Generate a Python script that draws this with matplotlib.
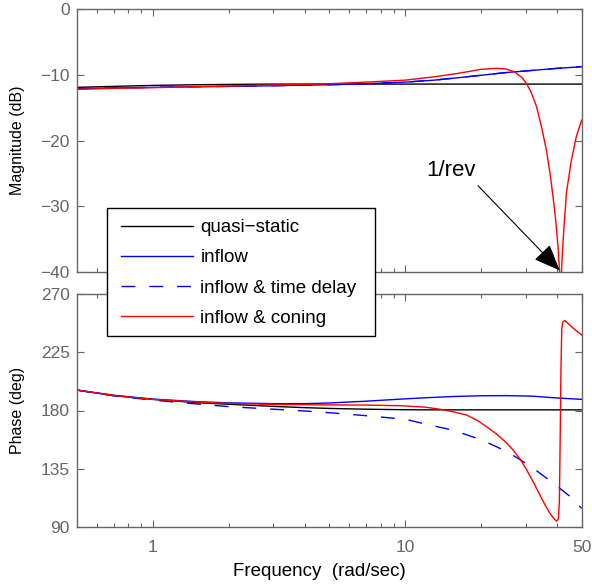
import numpy as np
import matplotlib
matplotlib.use("Agg")
import matplotlib.pyplot as plt
from matplotlib.patches import Rectangle
from matplotlib.ticker import FixedLocator, NullFormatter, FixedFormatter

plt.rcParams['font.family'] = ['Liberation Sans', 'DejaVu Sans']

# magnitude (dB)
freq_mag = [0.5, 0.7, 1, 1.5, 2, 3, 5, 7, 10, 13, 17, 20, 25, 30, 40, 50]
mag_quasi = [-11.9, -11.75, -11.6, -11.5, -11.45, -11.4, -11.4, -11.4, -11.4,
             -11.4, -11.4, -11.4, -11.4, -11.4, -11.4, -11.4]
mag_inflow = [-12.1, -12.0, -11.9, -11.8, -11.75, -11.65, -11.5, -11.35, -11.1,
              -10.8, -10.35, -10.05, -9.65, -9.4, -9.0, -8.75]

freq_mag_coning = [0.5, 0.7, 1, 1.5, 2, 3, 5, 7, 10, 13, 16, 20, 23, 25, 27, 29,
                   30.2, 31.5, 33.1, 34.6, 36.2, 37.4, 38.5, 39.4, 40.3, 41.0,
                   41.3, 41.6, 42.2, 43.5, 45.5, 47.6, 50]
mag_coning = [-12.2, -12.05, -11.95, -11.8, -11.7, -11.55, -11.35, -11.1, -10.8,
              -10.3, -9.8, -9.15, -9.0, -9.1, -9.5, -10.4, -11.3, -12.6, -14.8,
              -17.8, -21.4, -24.8, -28.6, -32.0, -36.2, -41.0, -60.0, -39.7,
              -35.2, -28.0, -23.0, -19.4, -16.9]

# phase (deg)
freq_ph = [0.5, 0.7, 1, 1.5, 2, 3, 4, 5, 7, 10, 12.2, 15.5, 20, 25.4, 31.6,
           35, 39, 45, 50]
ph_quasi = [195.8, 191.5, 188.6, 186.0, 184.8, 183.2, 182.2, 181.6, 181.0,
            180.6, 180.5, 180.5, 180.5, 180.5, 180.5, 180.5, 180.5, 180.5, 180.5]
ph_inflow = [195.8, 191.8, 188.8, 186.8, 185.9, 185.3, 185.3, 185.8, 187.2,
             189.0, 189.9, 190.8, 191.4, 191.5, 191.1, 190.5, 189.8, 189.1, 188.6]
ph_delay = [195.8, 191.3, 188.0, 185.0, 183.0, 181.0, 179.6, 178.3, 176.0,
            173.2, 169.3, 164.7, 157.4, 148.1, 136.5, 130.0, 123.2, 113.5, 104.4]

freq_ph_coning = [0.5, 0.7, 1, 1.5, 2, 3, 5, 7, 9.55, 12, 13.8, 15.5, 17.5,
                  19.2, 21, 23, 25.2, 26.8, 28.5, 30.2, 32.1, 34.2, 35.8, 37.3,
                  38.5, 39.7, 40.4, 40.8, 41.1, 41.4, 41.7, 42.1, 42.8, 44, 46,
                  48, 50]
ph_coning = [195.8, 191.6, 188.6, 186.5, 185.5, 184.7, 184.3, 184.2, 183.7,
             182.6, 180.9, 179.0, 176.5, 172.6, 167.5, 161.8, 155.0, 149.3,
             142.5, 134.5, 125.0, 114.5, 107.0, 101.0, 97.3, 94.5, 96.0, 110.0,
             160.0, 215.0, 243.0, 248.5, 249.5, 247.5, 244.0, 241.0, 238.3]

labels = ['quasi\u2212static', 'inflow', 'inflow & time delay', 'inflow & coning']

GRAY = '#666666'
W, H = 592, 584
fig = plt.figure(figsize=(W / 100, H / 100), dpi=100)


def px_axes(left, top, right, bottom):
    return fig.add_axes([left / W, 1 - bottom / H, (right - left) / W, (bottom - top) / H])


ax1 = px_axes(76.7, 9.3, 581.7, 271.7)
ax2 = px_axes(76.7, 294, 581.7, 527)

lw = 1.0
dash = (10, 10)
ax1.plot(freq_mag, mag_quasi, color='k', lw=lw, label=labels[0])
ax1.plot(freq_mag, mag_inflow, color='b', lw=lw, label=labels[1])
ax1.plot(freq_mag, mag_inflow, color='b', lw=lw, dashes=dash, label=labels[2])
ax1.plot(freq_mag_coning, mag_coning, color='r', lw=lw, label=labels[3])

ax2.plot(freq_ph, ph_quasi, color='k', lw=lw)
ax2.plot(freq_ph, ph_inflow, color='b', lw=lw)
ax2.plot(freq_ph, ph_delay, color='b', lw=lw, dashes=dash)
ax2.plot(freq_ph_coning, ph_coning, color='r', lw=lw)

minor = [0.6, 0.7, 0.8, 0.9, 2, 3, 4, 5, 6, 7, 8, 9, 20, 30, 40]
for ax in (ax1, ax2):
    ax.set_xscale('log')
    ax.set_xlim(0.5, 50)
    ax.xaxis.set_major_locator(FixedLocator([1, 10, 50]))
    ax.xaxis.set_minor_locator(FixedLocator(minor))
    ax.xaxis.set_minor_formatter(NullFormatter())
    ax.tick_params(which='both', direction='in', top=True, right=True,
                   color=GRAY, labelcolor=GRAY, labelsize=12.5)
    ax.tick_params(which='major', length=5, width=0.8)
    ax.tick_params(which='minor', length=3, width=0.8)
    ax.tick_params(axis='y', pad=5)
    for s in ax.spines.values():
        s.set_color(GRAY)
        s.set_linewidth(1.0)

ax1.set_ylim(-40, 0)
ax1.set_yticks([-40, -30, -20, -10, 0])
ax1.xaxis.set_major_formatter(NullFormatter())
ax1.set_ylabel('Magnitude (dB)', fontsize=11.5)
ax1.yaxis.set_label_coords(-0.102, 0.5)

ax2.set_ylim(90, 270)
ax2.set_yticks([90, 135, 180, 225, 270])
ax2.xaxis.set_major_formatter(FixedFormatter(['1', '10', '50']))
ax2.tick_params(axis='x', pad=9)
ax2.set_ylabel('Phase (deg)', fontsize=11.5)
ax2.yaxis.set_label_coords(-0.102, 0.5)
ax2.set_xlabel('Frequency  (rad/sec)', fontsize=13.5)
ax2.xaxis.set_label_coords(0.48, -0.155)

ax1.annotate('1/rev', xy=(40.9, -39.8), xytext=(15.2, -25.4),
             fontsize=16, ha='center', va='baseline',
             arrowprops=dict(arrowstyle='-|>,head_length=1.1,head_width=0.45',
                             mutation_scale=15, color='k', lw=0.8,
                             relpos=(0.95, 0), shrinkA=2, shrinkB=0))

# legend box drawn at its place across both panels
fig.patches.append(Rectangle((106.7 / W, 1 - 336 / H), (375 - 106.7) / W,
                             (336 - 208.3) / H, transform=fig.transFigure,
                             facecolor='white', edgecolor='k', lw=1.0,
                             zorder=4))
handles, _ = ax1.get_legend_handles_labels()
leg = fig.legend(handles, labels, loc='upper left',
                 bbox_to_anchor=(120.7 / W, 1 - 219 / H),
                 borderaxespad=0, borderpad=0, fontsize=13.5, frameon=False,
                 handlelength=3.85, handletextpad=0.4, labelspacing=0.70)
leg.set_zorder(5)

fig.savefig('out.png', dpi=100)
